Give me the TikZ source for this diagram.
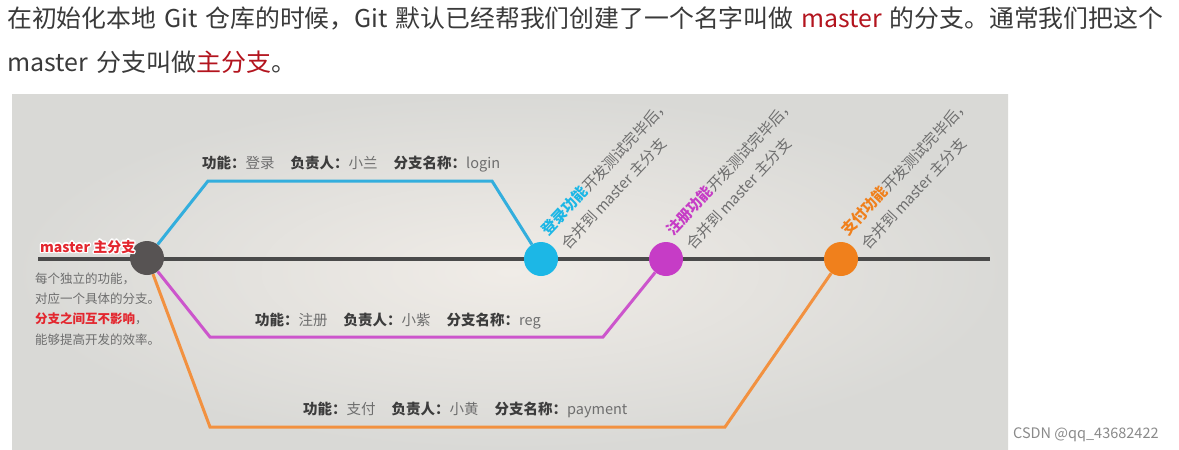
\documentclass[tikz,border=0pt]{standalone}
\usepackage{fontspec}
\setmainfont{Noto Sans CJK SC}
\usetikzlibrary{calc}
\pgfdeclarelayer{back}
\pgfdeclarelayer{lines}
\pgfsetlayers{back,lines,main}
\definecolor{txt}{HTML}{3A3A3A}
\definecolor{redtop}{HTML}{B3141E}
\definecolor{bgin}{HTML}{F0ECE7}
\definecolor{bgout}{HTML}{D9D9D6}
\definecolor{mainline}{HTML}{4A4A4A}
\definecolor{mastc}{HTML}{575353}
\definecolor{bl}{HTML}{33AEDD}
\definecolor{blc}{HTML}{1CB7E6}
\definecolor{mg}{HTML}{CC55CC}
\definecolor{mgc}{HTML}{C63CC6}
\definecolor{og}{HTML}{F29140}
\definecolor{ogc}{HTML}{F0801C}
\definecolor{lbl}{HTML}{3C3C3C}
\definecolor{val}{HTML}{6E6E6E}
\definecolor{redleft}{HTML}{E3262E}
\definecolor{mark}{HTML}{8A8A8A}
\newcommand{\haloText}[1]{%
  \foreach \dx/\dy in {1.4/0,-1.4/0,0/1.4,0/-1.4,1/1,1/-1,-1/1,-1/-1}{%
    \node[anchor=base west,inner sep=0,text=white,font=\fontsize{14}{14}\selectfont\bfseries] at ($(mlab)+(\dx,\dy)$) {#1};}%
  \node[anchor=base west,inner sep=0,text=redleft,font=\fontsize{14}{14}\selectfont\bfseries] (mtitle) at (mlab) {#1};}
\newcommand{\wsp}{\hspace{0.32em}}
\begin{document}
\begin{tikzpicture}[x=1pt,y=-1pt,
  toptext/.style={anchor=base west,inner sep=0,text=txt,font=\fontsize{24.5}{24.5}\selectfont},
  lab/.style={anchor=base west,inner sep=0,text=lbl,font=\fontsize{14.5}{14.5}\selectfont},
  side/.style={anchor=base west,inner sep=0,text=val,font=\fontsize{12.5}{12.5}\selectfont},
  rot/.style={anchor=base west,inner sep=0,rotate=47,text=val,font=\fontsize{15}{15}\selectfont},
  dot/.style={circle,inner sep=0,minimum size=34pt},
  branch/.style={line width=3pt}]
\useasboundingbox (0,0) rectangle (1179,450);
\begin{pgfonlayer}{back}
\fill[white] (0,0) rectangle (1179,450);
\shade[inner color=bgin,outer color=bgout] (12,94) rectangle (1008,450);
\end{pgfonlayer}

% top text
\node[toptext] (t1) at (7,27) {\resizebox{1156pt}{\height}{在初始化本地\wsp Git\wsp 仓库的时候，Git\wsp 默认已经帮我们创建了一个名字叫做\wsp\textcolor{redtop}{master}\wsp 的分支。通常我们把这个}};
\node[toptext] (t2) at (7,71) {\scalebox{1.02}[1]{master\wsp 分支叫做\textcolor{redtop}{主分支}。}};

% coordinates
\coordinate (ms) at (38,259);
\coordinate (me) at (990,259);
\coordinate (b1) at (208,181);
\coordinate (b2) at (492,181);
\coordinate (r1) at (210,337);
\coordinate (r2) at (603,337);
\coordinate (p1) at (210,427);
\coordinate (p2) at (725,427);

\node[dot,fill=mastc] (master) at (147,258) {};
\node[dot,fill=blc] (login) at (541,259) {};
\node[dot,fill=mgc] (reg) at (666,259) {};
\node[dot,fill=ogc] (pay) at (841,259) {};

\begin{pgfonlayer}{lines}
\draw[mainline,line width=4pt] (ms) -- (me);
\draw[branch,bl] (master) -- (b1) -- (b2) -- (login);
\draw[branch,mg] (master) -- (r1) -- (r2) -- (reg);
\draw[branch,og] (master) -- (p1) -- (p2) -- (pay);
\end{pgfonlayer}

% branch labels
\node[lab] (llogin) at (202,168) {\textbf{功能：}\textcolor{val}{登录}\hspace{16pt}\textbf{负责人：}\textcolor{val}{小兰}\hspace{16pt}\textbf{分支名称：}\textcolor{val}{login}};
\node[lab] (lreg) at (255,325) {\textbf{功能：}\textcolor{val}{注册}\hspace{16pt}\textbf{负责人：}\textcolor{val}{小紫}\hspace{16pt}\textbf{分支名称：}\textcolor{val}{reg}};
\node[lab] (lpay) at (303,414) {\textbf{功能：}\textcolor{val}{支付}\hspace{16pt}\textbf{负责人：}\textcolor{val}{小黄}\hspace{16pt}\textbf{分支名称：}\textcolor{val}{payment}};

% left text
\coordinate (mlab) at (40,252);
\haloText{master 主分支}
\node[side] (s1) at (35,283) {每个独立的功能，};
\node[side] (s2) at (35,303) {对应一个具体的分支。};
\node[side] (s3) at (35,323) {\textcolor{redleft}{\textbf{分支之间互不影响}}，};
\node[side] (s4) at (35,344) {能够提高开发的效率。};

% merge notes
\node[rot] (n1a) at ($(login)+(7,-22)$) {\textcolor{blc}{\textbf{登录功能}}开发测试完毕后，};
\node[rot] (n1b) at ($(login)+(27,-8)$) {合并到 master 主分支};
\node[rot] (n2a) at ($(reg)+(7,-22)$) {\textcolor{mgc}{\textbf{注册功能}}开发测试完毕后，};
\node[rot] (n2b) at ($(reg)+(27,-8)$) {合并到 master 主分支};
\node[rot] (n3a) at ($(pay)+(7,-22)$) {\textcolor{ogc}{\textbf{支付功能}}开发测试完毕后，};
\node[rot] (n3b) at ($(pay)+(27,-8)$) {合并到 master 主分支};

% watermark
\node[anchor=base west,inner sep=0,text=mark,font=\fontsize{14.5}{14.5}\selectfont] (wm) at (1013,438) {CSDN @qq\_43682422};
\end{tikzpicture}
\end{document}
